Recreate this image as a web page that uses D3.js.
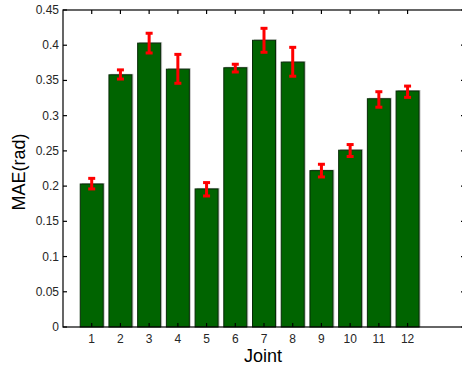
<!DOCTYPE html>
<html>
<head>
<meta charset="utf-8">
<script src="https://cdn.jsdelivr.net/npm/d3@7"></script>
<style>
  body { margin: 0; background: #fff; }
  svg { display: block; font-family: "Liberation Sans", Arial, sans-serif; }
</style>
</head>
<body>
<div id="chart"></div>
<script>
const joints = [1, 2, 3, 4, 5, 6, 7, 8, 9, 10, 11, 12]
const mae = [0.203, 0.358, 0.403, 0.366, 0.196, 0.368, 0.407, 0.376, 0.222, 0.251, 0.324, 0.335]
const errUp = [0.008, 0.007, 0.014, 0.021, 0.009, 0.005, 0.017, 0.021, 0.009, 0.008, 0.010, 0.007]
const errDown = [0.007, 0.006, 0.014, 0.020, 0.010, 0.006, 0.017, 0.020, 0.009, 0.009, 0.012, 0.009]
const yTicks = [0, 0.05, 0.1, 0.15, 0.2, 0.25, 0.3, 0.35, 0.4, 0.45]

const width = 462
const height = 368
const plotLeft = 63, plotRight = 465, plotTop = 10, plotBottom = 327
const tickLen = 4
const barFill = "#006400"
const barEdge = "#062a06"
const errColor = "#ff0000"

const svg = d3.select("#chart")
  .append("svg")
  .attr("width", width)
  .attr("height", height)

const x = d3.scaleLinear().domain([0, 14]).range([plotLeft, plotRight])
const y = d3.scaleLinear().domain([0, 0.45]).range([plotBottom, plotTop])
const barW = (x(1) - x(0)) * 0.8

// bar shadows, then bars
svg.selectAll(".shadow")
  .data(joints)
  .enter()
  .append("rect")
  .attr("x", d => x(d) - barW / 2 + 1.5)
  .attr("y", (d, i) => y(mae[i]) - 1)
  .attr("width", barW)
  .attr("height", (d, i) => plotBottom - y(mae[i]) + 1)
  .attr("fill", "#c4c4c4")

svg.selectAll(".bar")
  .data(joints)
  .enter()
  .append("rect")
  .attr("x", d => x(d) - barW / 2)
  .attr("y", (d, i) => y(mae[i]))
  .attr("width", barW)
  .attr("height", (d, i) => plotBottom - y(mae[i]))
  .attr("fill", barFill)
  .attr("stroke", barEdge)
  .attr("stroke-width", 1)

// error bars
const capW = 7
const err = svg.append("g")
  .attr("stroke", errColor)
  .attr("stroke-width", 3)
joints.forEach((d, i) => {
  const cx = x(d)
  const hi = y(mae[i] + errUp[i])
  const lo = y(mae[i] - errDown[i])
  err.append("line").attr("x1", cx).attr("x2", cx).attr("y1", hi).attr("y2", lo)
  err.append("line").attr("x1", cx - capW / 2).attr("x2", cx + capW / 2).attr("y1", hi).attr("y2", hi)
  err.append("line").attr("x1", cx - capW / 2).attr("x2", cx + capW / 2).attr("y1", lo).attr("y2", lo)
})

// axes box
const axisG = svg.append("g").attr("stroke", "#000").attr("stroke-width", 1.2)
axisG.append("rect")
  .attr("x", plotLeft).attr("y", plotTop)
  .attr("width", plotRight - plotLeft).attr("height", plotBottom - plotTop)
  .attr("fill", "none")

// x ticks (bottom and top, inward)
joints.forEach(d => {
  axisG.append("line").attr("x1", x(d)).attr("x2", x(d)).attr("y1", plotBottom).attr("y2", plotBottom - tickLen)
  axisG.append("line").attr("x1", x(d)).attr("x2", x(d)).attr("y1", plotTop).attr("y2", plotTop + tickLen)
})
// y ticks (left and right, inward)
yTicks.forEach(t => {
  axisG.append("line").attr("x1", plotLeft).attr("x2", plotLeft + tickLen).attr("y1", y(t)).attr("y2", y(t))
  axisG.append("line").attr("x1", plotRight).attr("x2", plotRight - tickLen).attr("y1", y(t)).attr("y2", y(t))
})

// tick labels
svg.append("g")
  .selectAll("text")
  .data(joints)
  .enter()
  .append("text")
  .attr("x", d => x(d))
  .attr("y", plotBottom + 16)
  .attr("text-anchor", "middle")
  .attr("font-size", 12)
  .attr("fill", "#262626")
  .text(d => d)

svg.append("g")
  .selectAll("text")
  .data(yTicks)
  .enter()
  .append("text")
  .attr("x", plotLeft - 4)
  .attr("y", d => y(d) + 4)
  .attr("text-anchor", "end")
  .attr("font-size", 12)
  .attr("fill", "#262626")
  .text(d => d)

// axis titles
svg.append("text")
  .attr("x", 263)
  .attr("y", 362)
  .attr("text-anchor", "middle")
  .attr("font-size", 18)
  .attr("fill", "#000")
  .text("Joint")

svg.append("text")
  .attr("transform", "translate(25, 172) rotate(-90)")
  .attr("text-anchor", "middle")
  .attr("font-size", 18)
  .attr("fill", "#000")
  .text("MAE(rad)")
</script>
</body>
</html>
